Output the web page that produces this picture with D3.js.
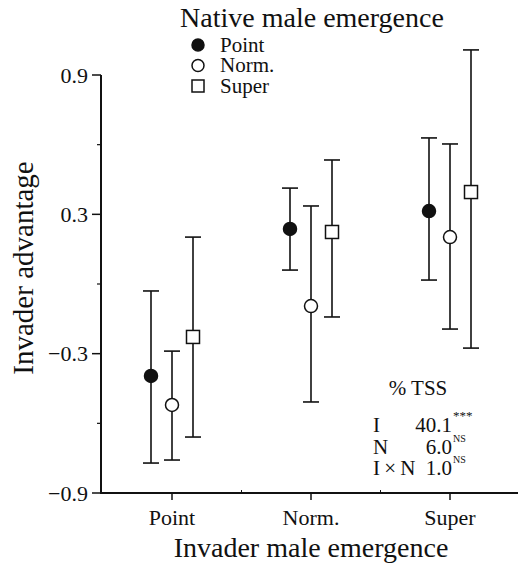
<!DOCTYPE html>
<html>
<head>
<meta charset="utf-8">
<script src="https://cdn.jsdelivr.net/npm/d3@7"></script>
<style>
  html, body { margin: 0; padding: 0; background: #fff; }
  svg text { font-family: "Liberation Serif", "DejaVu Serif", serif; fill: #111; }
</style>
</head>
<body>
<div id="chart"></div>
<script>
// categories on the x axis (invader) and the three native series
const invaderLevels = ['Point', 'Norm.', 'Super'];
const nativeLevels = ['Point', 'Norm.', 'Super'];

// means, lower and upper error bar ends, one row per native series
const meanValues = [
    [-0.396, 0.237, 0.314],   // native Point
    [-0.521, -0.095, 0.202],  // native Norm.
    [-0.228, 0.224, 0.396]    // native Super
];
const lowerValues = [
    [-0.771, 0.060, 0.017],
    [-0.758, -0.508, -0.194],
    [-0.659, -0.142, -0.276]
];
const upperValues = [
    [-0.030, 0.413, 0.629],
    [-0.289, 0.336, 0.603],
    [0.202, 0.534, 1.008]
];

const majorTicks = [-0.9, -0.3, 0.3, 0.9];
const minorTicks = [-0.6, 0, 0.6];

// stats table
const tssRows = [
    {term: 'I', value: '40.1', sig: '***'},
    {term: 'N', value: '6.0', sig: 'NS'},
    {term: 'I\u2009×\u2009N', value: '1.0', sig: 'NS'}
];

const width = 518, height = 569;

const svg = d3.select('#chart').append('svg')
    .attr('width', width)
    .attr('height', height)
    .attr('viewBox', [0, 0, width, height]);

const y = d3.scaleLinear().domain([-0.9, 0.9]).range([493, 75]);
const x = d3.scalePoint().domain(invaderLevels).range([172, 450]);
const offset = d3.scalePoint().domain(nativeLevels).range([-21, 21]);

const axisX0 = 101;

// y axis
svg.append('line')
    .attr('x1', axisX0).attr('x2', axisX0)
    .attr('y1', y(0.9)).attr('y2', y(-0.9))
    .attr('stroke', '#111').attr('stroke-width', 2);

svg.selectAll('.ymajor').data(majorTicks).join('line')
    .attr('x1', axisX0 - 9).attr('x2', axisX0)
    .attr('y1', d => y(d)).attr('y2', d => y(d))
    .attr('stroke', '#111').attr('stroke-width', 1.5);

svg.selectAll('.yminor').data(minorTicks).join('line')
    .attr('x1', axisX0 - 4).attr('x2', axisX0)
    .attr('y1', d => y(d)).attr('y2', d => y(d))
    .attr('stroke', '#111').attr('stroke-width', 1.2);

svg.selectAll('.ylab').data(majorTicks).join('text')
    .attr('x', axisX0 - 13)
    .attr('y', d => y(d))
    .attr('dy', '0.35em')
    .attr('text-anchor', 'end')
    .attr('font-size', 22)
    .text(d => d < 0 ? '\u2212' + Math.abs(d).toFixed(1) : d.toFixed(1));

// x axis
svg.append('line')
    .attr('x1', axisX0 - 1).attr('x2', width)
    .attr('y1', y(-0.9)).attr('y2', y(-0.9))
    .attr('stroke', '#111').attr('stroke-width', 2);

svg.selectAll('.xmajor').data(invaderLevels).join('line')
    .attr('x1', d => x(d)).attr('x2', d => x(d))
    .attr('y1', y(-0.9)).attr('y2', y(-0.9) + 7)
    .attr('stroke', '#111').attr('stroke-width', 1.5);

// small inward ticks half way between categories
const step = x.step();
svg.selectAll('.xminor').data(invaderLevels.slice(0, 2)).join('line')
    .attr('x1', d => x(d) + step / 2).attr('x2', d => x(d) + step / 2)
    .attr('y1', y(-0.9) - 3).attr('y2', y(-0.9))
    .attr('stroke', '#111').attr('stroke-width', 1);

svg.selectAll('.xlab').data(invaderLevels).join('text')
    .attr('x', d => x(d))
    .attr('y', 525)
    .attr('text-anchor', 'middle')
    .attr('font-size', 22)
    .text(d => d);

// axis titles
svg.append('text')
    .attr('x', 311).attr('y', 557)
    .attr('text-anchor', 'middle')
    .attr('font-size', 28)
    .text('Invader male emergence');

svg.append('text')
    .attr('transform', `translate(33, ${(158 + 378) / 2}) rotate(-90)`)
    .attr('text-anchor', 'middle')
    .attr('font-size', 29)
    .text('Invader advantage');

// markers
function drawMarker(g, si, cx, cy, r) {
    if (si === 2) {
        g.append('rect')
            .attr('x', cx - r).attr('y', cy - r)
            .attr('width', 2 * r).attr('height', 2 * r)
            .attr('fill', '#fff').attr('stroke', '#111').attr('stroke-width', 1.5);
    } else {
        g.append('circle')
            .attr('cx', cx).attr('cy', cy).attr('r', r)
            .attr('fill', si === 0 ? '#111' : '#fff')
            .attr('stroke', '#111').attr('stroke-width', 1.5);
    }
}

// error bars and points
const capHalf = 8;
nativeLevels.forEach((s, si) => {
    const g = svg.append('g');
    invaderLevels.forEach((c, ci) => {
        const cx = x(c) + offset(s);
        const lo = y(lowerValues[si][ci]);
        const hi = y(upperValues[si][ci]);
        g.append('line')
            .attr('x1', cx).attr('x2', cx).attr('y1', lo).attr('y2', hi)
            .attr('stroke', '#111').attr('stroke-width', 1.6);
        [lo, hi].forEach(v => {
            g.append('line')
                .attr('x1', cx - capHalf).attr('x2', cx + capHalf)
                .attr('y1', v).attr('y2', v)
                .attr('stroke', '#111').attr('stroke-width', 1.6);
        });
        drawMarker(g, si, cx, y(meanValues[si][ci]), 6.5);
    });
});

// legend
svg.append('text')
    .attr('x', 312).attr('y', 27)
    .attr('text-anchor', 'middle')
    .attr('font-size', 28)
    .text('Native male emergence');

const legendY = d3.scalePoint().domain(nativeLevels).range([45, 86]);
nativeLevels.forEach((s, si) => {
    const g = svg.append('g');
    drawMarker(g, si, 198, legendY(s), 6);
    g.append('text')
        .attr('x', 220).attr('y', legendY(s))
        .attr('dy', '0.33em')
        .attr('font-size', 21)
        .text(s);
});

// % TSS table
svg.append('text')
    .attr('x', 418).attr('y', 395)
    .attr('text-anchor', 'middle')
    .attr('font-size', 21)
    .text('% TSS');

const rowY = d3.scalePoint().domain(tssRows.map(d => d.term)).range([432, 475]);
tssRows.forEach(r => {
    svg.append('text')
        .attr('x', 373).attr('y', rowY(r.term))
        .attr('font-size', 21)
        .text(r.term);
    svg.append('text')
        .attr('x', 452).attr('y', rowY(r.term))
        .attr('text-anchor', 'end')
        .attr('font-size', 21)
        .text(r.value);
    svg.append('text')
        .attr('x', 453).attr('y', rowY(r.term) - 12)
        .attr('font-size', r.sig === 'NS' ? 10 : 13)
        .text(r.sig);
});
</script>
</body>
</html>
